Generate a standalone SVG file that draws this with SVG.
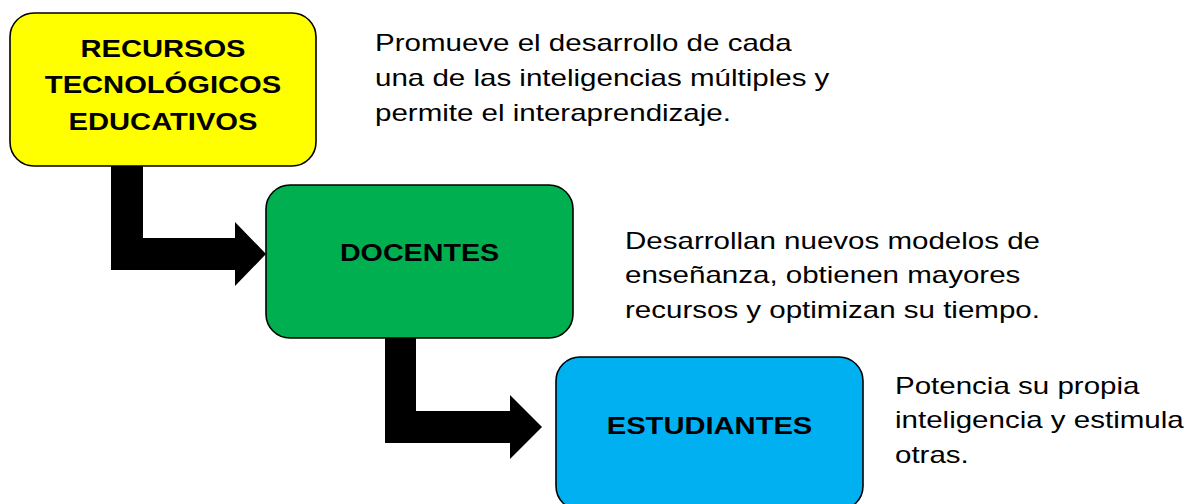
<svg xmlns="http://www.w3.org/2000/svg" width="1193" height="504" viewBox="0 0 1193 504">
<style>
.box{stroke:#000;stroke-width:1.6}
.title{font-family:"Liberation Sans",Arial,sans-serif;font-weight:bold;font-size:24.5px;fill:#000;text-anchor:middle}
.desc{font-family:"Liberation Sans",Arial,sans-serif;font-size:24px;fill:#000}
.arrow{fill:#000}
</style>
<rect width="1193" height="504" fill="#fff"/>
<g id="connectors">
<polygon class="arrow" points="111,165 143,165 143,238 235,238 235,222 266,254 235,286 235,270 111,270"/>
<polygon class="arrow" points="385,337 416,337 416,411 510,411 510,395 542,427 510,459 510,443 385,443"/>
</g>
<g id="node-recursos">
<rect class="box" x="10" y="13" width="306" height="153" rx="24" fill="#FFFF00"/>
<g transform="translate(163,0) scale(1.19,1)">
<text class="title" x="0" y="57">RECURSOS</text>
<text class="title" x="0" y="93.5">TECNOLÓGICOS</text>
<text class="title" x="0" y="130">EDUCATIVOS</text>
</g>
</g>
<g id="node-docentes">
<rect class="box" x="266" y="185" width="307" height="153" rx="24" fill="#00B050"/>
<g transform="translate(419.5,0) scale(1.17,1)">
<text class="title" x="0" y="261">DOCENTES</text>
</g>
</g>
<g id="node-estudiantes">
<rect class="box" x="556" y="357" width="307" height="153" rx="24" fill="#00B0F0"/>
<g transform="translate(709.5,0) scale(1.19,1)">
<text class="title" x="0" y="434.5">ESTUDIANTES</text>
</g>
</g>
<g id="text-recursos">
<g transform="translate(375,0) scale(1.23,1)">
<text class="desc" x="0" y="51">Promueve el desarrollo de cada</text>
<text class="desc" x="0" y="86">una de las inteligencias múltiples y</text>
<text class="desc" x="0" y="121">permite el interaprendizaje.</text>
</g>
</g>
<g id="text-docentes">
<g transform="translate(625,0) scale(1.23,1)">
<text class="desc" x="0" y="249">Desarrollan nuevos modelos de</text>
<text class="desc" x="0" y="283.5">enseñanza, obtienen mayores</text>
<text class="desc" x="0" y="318">recursos y optimizan su tiempo.</text>
</g>
</g>
<g id="text-estudiantes">
<g transform="translate(895,0) scale(1.23,1)">
<text class="desc" x="0" y="394.5">Potencia su propia</text>
<text class="desc" x="0" y="428.5">inteligencia y estimula</text>
<text class="desc" x="0" y="463">otras.</text>
</g>
</g>
</svg>
